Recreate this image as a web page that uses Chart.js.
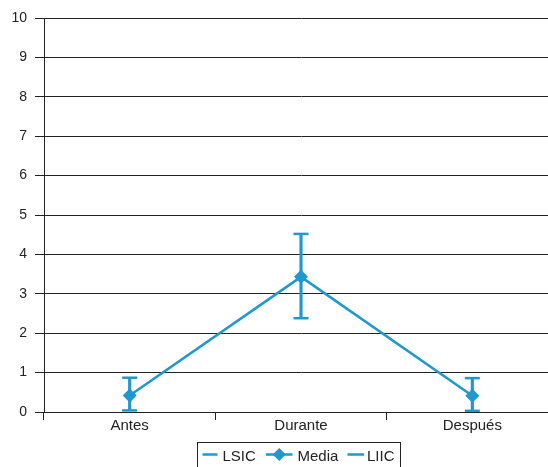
<!DOCTYPE html>
<html>
<head>
<meta charset="utf-8">
<script src="https://cdn.jsdelivr.net/npm/chart.js@4/dist/chart.umd.min.js"></script>
<style>
  html, body { margin: 0; padding: 0; background: #fff; overflow: hidden; }
  #wrap { width: 548px; height: 467px; overflow: hidden; position: relative; }
  canvas { display: block; }
</style>
</head>
<body>
<div id="wrap"><canvas id="c" width="568" height="467"></canvas></div>
<script>
// Periods and values (mean with upper / lower confidence limits)
const periods = ['Antes', 'Durante', 'Después'];
const media = [0.42, 3.43, 0.41];
const lsic = [0.87, 4.52, 0.86];
const liic = [0.04, 2.38, 0.03];
const yTicks = [0, 1, 2, 3, 4, 5, 6, 7, 8, 9, 10];

const BLUE = '#1e98ce';
const INK = '#222222';
const FONT = '"Liberation Sans", Arial, Helvetica, sans-serif';

// Legend drawn inside a framed box under the axis
const boxLegend = {
  id: 'boxLegend',
  afterDraw(chart) {
    const ctx = chart.ctx;
    ctx.save();
    ctx.strokeStyle = INK;
    ctx.lineWidth = 1;
    ctx.strokeRect(197.5, 442.5, 203, 40);
    const cy = 454.5;
    const items = [
      { label: chart.data.datasets[1].label, x0: 202.5, x1: 217.5, tx: 222.5, diamond: false },
      { label: chart.data.datasets[0].label, x0: 266, x1: 292.5, tx: 297.5, diamond: true },
      { label: chart.data.datasets[2].label, x0: 347.5, x1: 364, tx: 367, diamond: false }
    ];
    items.forEach(it => {
      ctx.strokeStyle = BLUE;
      ctx.lineWidth = 2.5;
      ctx.beginPath();
      ctx.moveTo(it.x0, cy);
      ctx.lineTo(it.x1, cy);
      ctx.stroke();
      if (it.diamond) {
        const cx = (it.x0 + it.x1) / 2, r = 6.5;
        ctx.fillStyle = BLUE;
        ctx.beginPath();
        ctx.moveTo(cx, cy - r);
        ctx.lineTo(cx + r, cy);
        ctx.lineTo(cx, cy + r);
        ctx.lineTo(cx - r, cy);
        ctx.closePath();
        ctx.fill();
      }
      ctx.fillStyle = INK;
      ctx.font = '15px ' + FONT;
      ctx.textBaseline = 'alphabetic';
      ctx.textAlign = 'left';
      ctx.fillText(it.label, it.tx, 461);
    });
    ctx.restore();
  }
};

new Chart(document.getElementById('c'), {
  type: 'line',
  data: {
    labels: periods,
    datasets: [
      {
        label: 'Media',
        data: media,
        borderColor: BLUE,
        backgroundColor: BLUE,
        borderWidth: 2.5,
        pointStyle: 'rectRot',
        pointRadius: 7,
        pointBorderWidth: 0,
        tension: 0
      },
      {
        label: 'LSIC',
        data: lsic,
        showLine: false,
        borderColor: BLUE,
        backgroundColor: BLUE,
        pointStyle: 'line',
        pointRadius: 7.5,
        pointBorderWidth: 2.5
      },
      {
        label: 'LIIC',
        data: liic,
        showLine: false,
        borderColor: BLUE,
        backgroundColor: BLUE,
        pointStyle: 'line',
        pointRadius: 7.5,
        pointBorderWidth: 2.5
      },
      {
        type: 'bar',
        label: 'IC',
        data: periods.map((_, i) => [liic[i], lsic[i]]),
        backgroundColor: BLUE,
        barThickness: 2.5
      }
    ]
  },
  options: {
    responsive: false,
    animation: false,
    devicePixelRatio: 1,
    layout: { padding: { top: 18, right: 1.5, bottom: 0, left: 0 } },
    plugins: {
      legend: { display: false },
      tooltip: { enabled: false }
    },
    scales: {
      x: {
        type: 'category',
        offset: true,
        grid: {
          offset: true,
          drawOnChartArea: false,
          color: INK,
          tickLength: 8
        },
        border: { color: INK, width: 1 },
        ticks: {
          color: INK,
          font: { family: FONT, size: 15, lineHeight: 1 },
          padding: -2,
          maxRotation: 0
        },
        afterFit(scale) { scale.height = 55; }
      },
      y: {
        min: 0,
        max: 10,
        afterBuildTicks(scale) { scale.ticks = yTicks.map(v => ({ value: v })); },
        grid: { color: INK, lineWidth: 1, tickLength: 9 },
        border: { color: INK, width: 1 },
        ticks: {
          color: INK,
          font: { family: FONT, size: 14 },
          padding: 8
        },
        afterFit(scale) { scale.width = 44; }
      }
    }
  },
  plugins: [boxLegend]
});
</script>
</body>
</html>
